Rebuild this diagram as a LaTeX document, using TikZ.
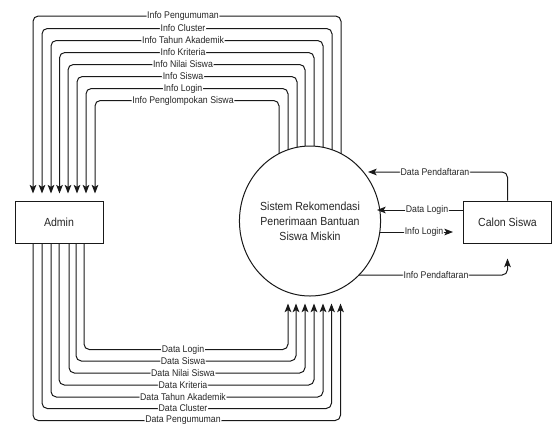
\documentclass[tikz,border=0pt]{standalone}
\usepackage{fontspec}
\setmainfont{Liberation Sans}
\newfontfamily\narrowfont[FakeStretch=0.9]{Liberation Sans}
\usetikzlibrary{arrows.meta,shapes.geometric,calc,backgrounds}
\begin{document}
\begin{tikzpicture}[x=0.75pt,y=-0.75pt,
  flow/.style={draw=black!90,line width=0.75pt,rounded corners=4pt},
  arr/.style={-{Stealth[length=6.5pt,width=5pt,inset=1.5pt]}},
  lab/.style={fill=white,inner sep=0.6pt,font=\narrowfont\fontsize{7.3}{8}\selectfont,text=black!85},
  box/.style={draw=black!90,line width=0.75pt,minimum width=66pt,minimum height=31.5pt,font=\narrowfont\fontsize{8.8}{10}\selectfont,text=black!85},
  ]
\useasboundingbox (0,0) rectangle (552,430);
\node[box] (admin) at (59,222) {Admin};
\node[box] (calon) at (507.5,222) {Calon Siswa};
\node[ellipse,draw=black!90,line width=0.75pt,fill=white,minimum width=86.25pt,minimum height=112.5pt,inner sep=0pt,align=center,text=black!85,font=\narrowfont\fontsize{8.8}{11.25}\selectfont] (sys) at (310,221) {Sistem Rekomendasi\\Penerimaan Bantuan\\Siswa Miskin};

\begin{scope}[on background layer]
\foreach \rx/\y/\lx/\t in {31/16/-26/Info Pengumuman,
                           22/28.5/-17/Info Cluster,
                           13/40.5/-8/Info Tahun Akademik,
                           4/52.5/0.5/Info Kriteria,
                           -5/64.5/9/Info Nilai Siswa,
                           -13/76.5/18/Info Siswa,
                           -22/88.5/27/Info Login,
                           -31/100.5/36/Info Penglompokan Siswa}
  \draw[flow,arr] ($(sys.center)+(\rx,0)$) |- (183,\y) node[lab]{\t} -| ($(admin.north)+(\lx,-7)$);
\draw[flow,arr] ($(sys.center)+(0,11)$) -- (424,232) node[lab]{Info Login} -- (453,232);
\draw[flow,arr] ($(sys.center)+(0,54)$) -- (436,275) node[lab]{Info Pendaftaran} -| ($(calon.south)+(0,15)$);
\end{scope}

\foreach \lx/\y/\rx/\t in {25/349.5/-22/Data Login,
                           17/361/-14/Data Siswa,
                           10/373/-5/Data Nilai Siswa,
                           0/385/4/Data Kriteria,
                           -8/397/13/Data Tahun Akademik,
                           -17/408.5/21.5/Data Cluster,
                           -26/420.5/30.5/Data Pengumuman}
  \draw[flow,arr] ($(admin.south)+(\lx,0)$) |- (183,\y) node[lab]{\t} -| ($(sys.south)+(\rx,7)$);

\draw[flow,arr] (calon.north) |- (435,172) node[lab]{Data Pendaftaran} -- (368,172);
\draw[flow,arr] ($(calon.west)+(0,-12)$) -- (427,210) node[lab]{Data Login} -- (377,210);
\end{tikzpicture}
\end{document}
